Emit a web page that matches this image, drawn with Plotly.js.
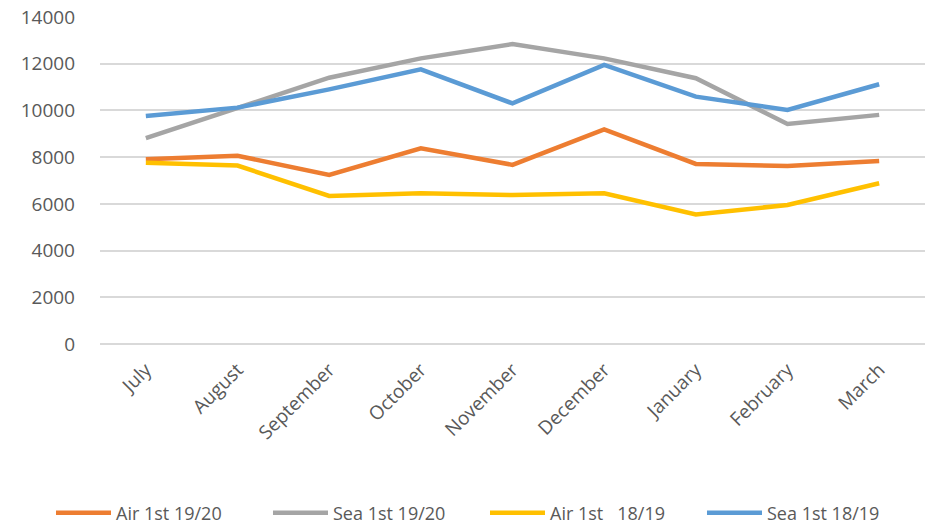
<!DOCTYPE html>
<html>
<head>
<meta charset="utf-8">
<script src="https://cdn.plot.ly/plotly-3.0.1.min.js"></script>
<style>
  html, body { margin: 0; padding: 0; background: #fff; }
  #plot { width: 930px; height: 524px; }
</style>
</head>
<body>
<div id="plot"></div>
<script>
var months = ['July', 'August', 'September', 'October', 'November', 'December', 'January', 'February', 'March'];

var air1920 = [7910, 8060, 7240, 8380, 7670, 9190, 7710, 7620, 7840];
var sea1920 = [8810, 10100, 11400, 12230, 12840, 12230, 11380, 9420, 9810];
var air1819 = [7760, 7640, 6340, 6450, 6380, 6450, 5550, 5950, 6880];
var sea1819 = [9760, 10120, 10900, 11760, 10300, 11950, 10590, 10020, 11120];

function series(name, y, color) {
    return {
        x: months,
        y: y,
        mode: 'lines',
        type: 'scatter',
        name: name,
        line: { color: color, width: 4.5 }
    };
}

var data = [
    series('Air 1st 19/20', air1920, '#ED7D31'),
    series('Sea 1st 19/20', sea1920, '#A5A5A5'),
    series('Air 1st   18/19', air1819, '#FFC000'),
    series('Sea 1st 18/19', sea1819, '#5B9BD5')
];

var layout = {
    width: 930,
    height: 524,
    margin: { l: 100, r: 5, t: 17, b: 180, autoexpand: false },
    paper_bgcolor: '#fff',
    plot_bgcolor: '#fff',
    font: { family: '"Open Sans", sans-serif', color: '#595959', size: 19 },
    showlegend: true,
    legend: {
        orientation: 'h',
        x: -0.0594, xanchor: 'left',
        y: -0.517, yanchor: 'middle',
        font: { family: '"Open Sans", sans-serif', size: 18, color: '#595959' },
        itemwidth: 55,
        entrywidth: 147,
        entrywidthmode: 'pixels'
    },
    xaxis: {
        type: 'category',
        range: [-0.5, 8.5],
        tickangle: -45,
        showgrid: false,
        showline: false,
        zeroline: false,
        ticks: '',
        ticklabelstandoff: 10,
        tickfont: { size: 19 }
    },
    yaxis: {
        range: [0, 14000],
        dtick: 2000,
        tickformat: 'd',
        showgrid: true,
        gridcolor: '#D9D9D9',
        gridwidth: 1.5,
        zeroline: true,
        zerolinecolor: '#D9D9D9',
        zerolinewidth: 1.5,
        showline: false,
        ticks: '',
        ticklabelstandoff: 24,
        tickfont: { size: 19 }
    }
};

Plotly.newPlot('plot', data, layout, { displayModeBar: false });
</script>
</body>
</html>
